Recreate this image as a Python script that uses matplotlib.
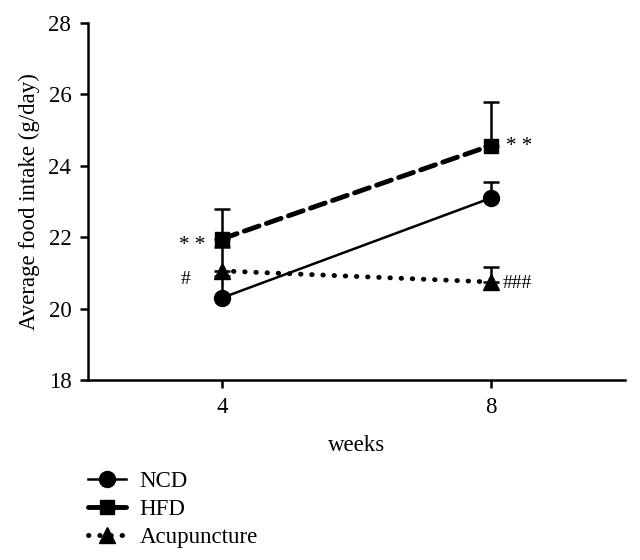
import numpy as np
import matplotlib
matplotlib.use("Agg")
import matplotlib.pyplot as plt
from matplotlib.lines import Line2D

plt.rcParams['font.family'] = ['Liberation Serif', 'DejaVu Serif']

weeks = [4, 8]
ncd = [20.31, 23.10]
ncd_err = [0.6, 0.45]
hfd = [21.96, 24.57]
hfd_err = [0.82, 1.23]
acu = [21.06, 20.75]
acu_err = [0.68, 0.42]

fig = plt.figure(figsize=(6.4, 5.6), dpi=100)
ax = fig.add_axes([0.1375, 0.321, 0.8395, 0.638])

styles = [
    dict(lw=1.8, ls='-', marker='o', ms=11.5),
    dict(lw=3.5, ls=(0, (3.2, 1.6)), marker='s', ms=10.5),
    dict(lw=3.5, ls=(0, (0.1, 2.2)), marker='^', ms=12),
]
series = [(ncd, ncd_err, 'NCD'), (hfd, hfd_err, 'HFD'), (acu, acu_err, 'Acupuncture')]

handles = []
for (vals, err, name), st in zip(series, styles):
    ax.errorbar(weeks, vals, yerr=[np.zeros(2), err], color='k',
                capsize=6, elinewidth=1.8, capthick=1.8,
                dash_capstyle='round', **st)
    handles.append(Line2D([], [], color='k', dash_capstyle='round', **st))

ax.text(3.55, hfd[0] - 0.2, '* *', fontsize=15, ha='center', va='center')
ax.text(3.45, acu[0] - 0.25, '#', fontsize=14, ha='center', va='center')
ax.text(8.23, hfd[1] - 0.02, '* *', fontsize=15, ha='left', va='center')
ax.text(8.17, acu[1] - 0.05, '###', fontsize=14, ha='left', va='center')

ax.set_xlim(2, 10)
ax.set_ylim(18, 28)
ax.set_xticks(weeks)
ax.set_yticks([18, 20, 22, 24, 26, 28])
ax.spines['top'].set_visible(False)
ax.spines['right'].set_visible(False)
for s in ['left', 'bottom']:
    ax.spines[s].set_linewidth(1.8)
ax.tick_params(width=1.8, length=6, labelsize=16.5, pad=6)
ax.set_xlabel('weeks', fontsize=16.5, labelpad=12)
ax.set_ylabel('Average food intake (g/day)', fontsize=16.5, labelpad=6)

ax.legend(handles, [s[2] for s in series], loc='upper left',
          bbox_to_anchor=(-0.017, -0.228), frameon=False,
          fontsize=16.5, handlelength=1.65, handletextpad=0.6,
          labelspacing=0.3, borderaxespad=0)

fig.savefig('out.png', dpi=100)
